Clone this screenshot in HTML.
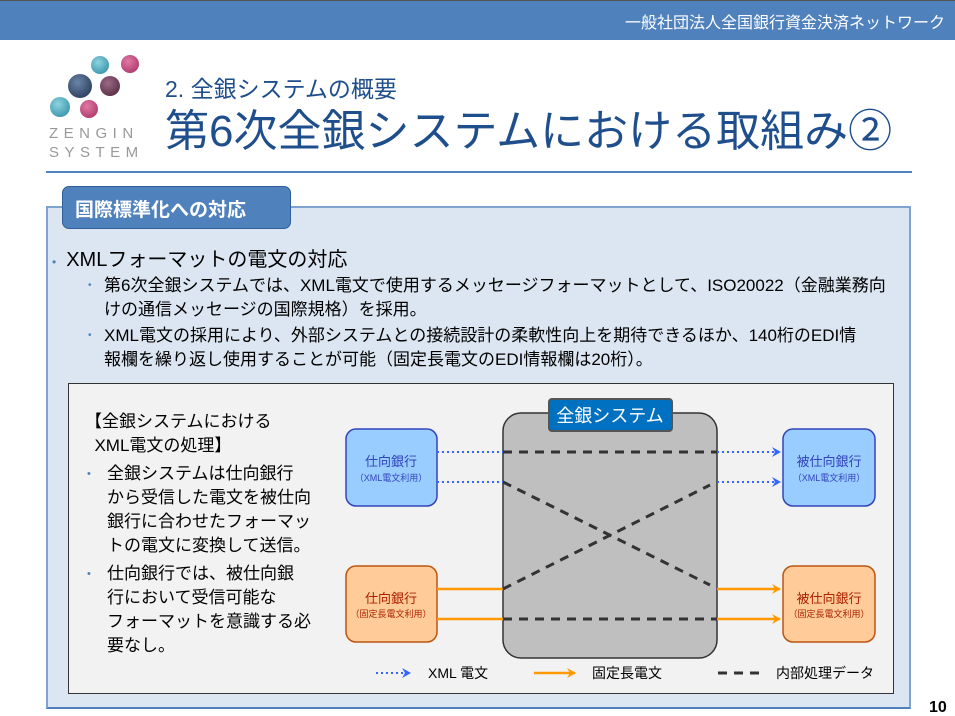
<!DOCTYPE html>
<html><head><meta charset="utf-8"><style>
*{margin:0;padding:0;box-sizing:border-box}
body{width:955px;height:716px;overflow:hidden;background:#fff;font-family:"Liberation Sans","Noto Sans CJK JP",sans-serif;position:relative}
.a{position:absolute;white-space:nowrap}
</style></head><body>
<div class="a" style="left:0;top:0;width:955px;height:40px;background:#4F81BD;border-top:1px solid #555"></div>
<div class="a" style="right:10px;top:9px;color:#fff;font-size:16px">一般社団法人全国銀行資金決済ネットワーク</div>
<svg class="a" style="left:46px;top:52px" width="100" height="110">
<defs><radialGradient id="g1" cx=".4" cy=".35" r=".7"><stop offset="0" stop-color="#8fd3e0"/><stop offset="1" stop-color="#3a96ad"/></radialGradient>
<radialGradient id="g2" cx=".4" cy=".35" r=".7"><stop offset="0" stop-color="#e07aa5"/><stop offset="1" stop-color="#b03a6c"/></radialGradient>
<radialGradient id="g3" cx=".4" cy=".35" r=".7"><stop offset="0" stop-color="#6a85a8"/><stop offset="1" stop-color="#2c3f5e"/></radialGradient>
<radialGradient id="g4" cx=".4" cy=".35" r=".7"><stop offset="0" stop-color="#9a6a85"/><stop offset="1" stop-color="#5a2f48"/></radialGradient></defs>
<circle cx="54" cy="13" r="9" fill="url(#g1)"/><circle cx="84" cy="12" r="9" fill="url(#g2)"/>
<circle cx="34" cy="34" r="12" fill="url(#g3)"/><circle cx="64" cy="34" r="10" fill="url(#g4)"/>
<circle cx="14" cy="55" r="10" fill="url(#g1)"/><circle cx="43" cy="57" r="9" fill="url(#g2)"/>
</svg>
<div class="a" style="left:49px;top:124px;color:#999;font-size:15px;letter-spacing:5.5px;line-height:19px">ZENGIN<br>SYSTEM</div>
<div class="a" style="left:165px;top:70px;color:#1F4E8C;font-size:23px">2. 全銀システムの概要</div>
<div class="a" style="left:165px;top:104px;color:#1F4E8C;font-size:44px;line-height:56px">第6次全銀システムにおける取組み②</div>
<div class="a" style="left:46px;top:171px;width:866px;height:2px;background:#4F81BD"></div>
<div class="a" style="left:46px;top:206px;width:865px;height:503px;background:#DCE6F2;border:2px solid #7FA3CF;border-bottom-color:#4F81BD"></div>
<div class="a" style="left:62px;top:186px;width:229px;height:43px;background:#4F81BD;border:1px solid #2F5F99;border-radius:7px;color:#fff;font-size:19px;font-weight:bold;padding:8px 0 0 12px">国際標準化への対応</div>
<div class="a" style="left:52px;top:243px;font-size:20px;color:#000"><span style="color:#4F81BD;font-size:12px;margin-right:10px">•</span>XMLフォーマットの電文の対応</div>
<div class="a" style="left:88px;top:274px;font-size:17px;line-height:24px;color:#000"><span style="color:#4F81BD;font-size:10px;position:absolute;left:0">•</span><div style="padding-left:16px">第6次全銀システムでは、XML電文で使用するメッセージフォーマットとして、ISO20022（金融業務向<br>けの通信メッセージの国際規格）を採用。</div></div>
<div class="a" style="left:88px;top:324px;font-size:17px;line-height:24px;color:#000"><span style="color:#4F81BD;font-size:10px;position:absolute;left:0">•</span><div style="padding-left:16px">XML電文の採用により、外部システムとの接続設計の柔軟性向上を期待できるほか、140桁のEDI情<br>報欄を繰り返し使用することが可能（固定長電文のEDI情報欄は20桁）。</div></div>
<div class="a" style="left:68px;top:383px;width:826px;height:311px;background:#F2F2F2;border:1px solid #333"></div>
<div class="a" style="left:85px;top:410px;font-size:17px;line-height:24px;color:#000">【全銀システムにおける<br>&nbsp;&nbsp;XML電文の処理】</div>
<div class="a" style="left:85px;top:462px;font-size:17px;line-height:24px;color:#000"><span style="color:#4F81BD;font-size:11px;position:absolute;left:2px">•</span><div style="padding-left:22px">全銀システムは仕向銀行<br>から受信した電文を被仕向<br>銀行に合わせたフォーマッ<br>トの電文に変換して送信。</div></div>
<div class="a" style="left:85px;top:562px;font-size:17px;line-height:24px;color:#000"><span style="color:#4F81BD;font-size:11px;position:absolute;left:2px">•</span><div style="padding-left:22px">仕向銀行では、被仕向銀<br>行において受信可能な<br>フォーマットを意識する必<br>要なし。</div></div>
<svg class="a" style="left:0;top:0" width="955" height="716" font-family="Liberation Sans, Noto Sans CJK JP, sans-serif">
<defs>
<marker id="mb" markerWidth="10" markerHeight="10" refX="8" refY="5" orient="auto" markerUnits="userSpaceOnUse"><path d="M0,0 L9,5 L0,10 L3,5z" fill="#3366FF"/></marker>
<marker id="mo" markerWidth="10" markerHeight="10" refX="8" refY="5" orient="auto" markerUnits="userSpaceOnUse"><path d="M0,0 L9,5 L0,10 L3,5z" fill="#FF9900"/></marker>
</defs>
<rect x="503" y="413" width="214" height="245" rx="18" fill="#BFBFBF" stroke="#333" stroke-width="1.5"/>
<rect x="549" y="399" width="123" height="32" rx="3" fill="#0070C0" stroke="#555" stroke-width="2"/>
<text x="610" y="422" fill="#fff" font-size="18" text-anchor="middle">全銀システム</text>
<rect x="346" y="429" width="91" height="77" rx="10" fill="#99CCFF" stroke="#3344BB" stroke-width="1.5"/>
<rect x="783" y="429" width="92" height="77" rx="10" fill="#99CCFF" stroke="#3344BB" stroke-width="1.5"/>
<rect x="346" y="566" width="91" height="76" rx="10" fill="#FFCC99" stroke="#BB5511" stroke-width="1.5"/>
<rect x="783" y="566" width="92" height="76" rx="10" fill="#FFCC99" stroke="#BB5511" stroke-width="1.5"/>
<g text-anchor="middle">
<text x="391" y="466" fill="#3344BB" font-size="13">仕向銀行</text><text x="391" y="481" fill="#3344BB" font-size="9">（XML電文利用）</text>
<text x="829" y="466" fill="#3344BB" font-size="13">被仕向銀行</text><text x="829" y="481" fill="#3344BB" font-size="9">（XML電文利用）</text>
<text x="391" y="603" fill="#AA2200" font-size="13">仕向銀行</text><text x="391" y="617" fill="#AA2200" font-size="9">（固定長電文利用）</text>
<text x="829" y="603" fill="#AA2200" font-size="13">被仕向銀行</text><text x="829" y="617" fill="#AA2200" font-size="9">（固定長電文利用）</text>
</g>
<g stroke="#3366FF" stroke-width="2" stroke-dasharray="2,3" fill="none">
<line x1="437" y1="452" x2="503" y2="452"/><line x1="437" y1="482" x2="503" y2="482"/>
<line x1="717" y1="452" x2="780" y2="452" marker-end="url(#mb)"/><line x1="717" y1="482" x2="780" y2="482" marker-end="url(#mb)"/>
<line x1="376" y1="673" x2="410" y2="673" marker-end="url(#mb)"/>
</g>
<g stroke="#FF9900" stroke-width="2.5" fill="none">
<line x1="437" y1="589" x2="503" y2="589"/><line x1="437" y1="619" x2="503" y2="619"/>
<line x1="717" y1="589" x2="780" y2="589" marker-end="url(#mo)"/><line x1="717" y1="619" x2="780" y2="619" marker-end="url(#mo)"/>
<line x1="534" y1="673" x2="575" y2="673" marker-end="url(#mo)"/>
</g>
<g stroke="#333" stroke-width="3" stroke-dasharray="9,7" fill="none">
<line x1="503" y1="452" x2="717" y2="452"/><line x1="503" y1="619" x2="717" y2="619"/>
<line x1="503" y1="482" x2="710" y2="585"/><line x1="503" y1="589" x2="710" y2="485"/>
<line x1="718" y1="673" x2="765" y2="673"/>
</g>
<g font-size="14" fill="#000"><text x="428" y="678">XML 電文</text><text x="592" y="678">固定長電文</text><text x="776" y="678">内部処理データ</text></g>
<text x="929" y="712" font-size="16" font-weight="bold" fill="#000">10</text>
</svg>
</body></html>
